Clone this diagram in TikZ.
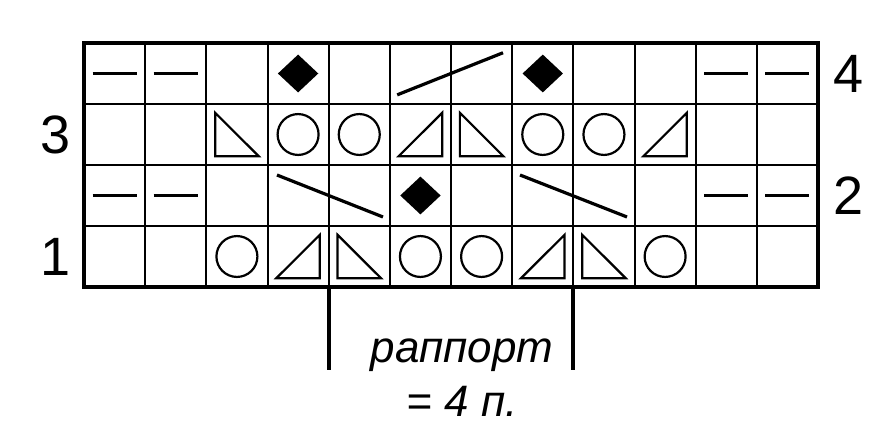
\documentclass[tikz,border=0pt]{standalone}
\usepackage{fontspec}
\setmainfont{Liberation Sans}
\usepackage{tikz}

\tikzset{
  pics/yarnover/.style={code={\draw[sym] (0,0) circle (0.335);}},
  pics/kleft/.style={code={\draw[sym] (-0.355,0.355) -- (-0.355,-0.355) -- (0.355,-0.355) -- cycle;}},
  pics/kright/.style={code={\draw[sym] (0.355,0.355) -- (0.355,-0.355) -- (-0.355,-0.355) -- cycle;}},
  pics/purlst/.style={code={\draw[bar] (-0.36,0) -- (0.36,0);}},
  pics/bobble/.style={code={\fill (0,0.31) -- (0.33,0) -- (0,-0.31) -- (-0.33,0) -- cycle;}},
}

\begin{document}
\begin{tikzpicture}[x=61.17pt, y=61pt,
    gridline/.style={line width=2pt},
    frame/.style={line width=4pt},
    sym/.style={line width=2.2pt, line join=miter},
    bar/.style={line width=3.2pt},
    rownum/.style={font=\fontsize{54}{60}\selectfont, inner sep=0pt},
    lbl/.style={font=\fontsize{44}{50}\selectfont\itshape, inner sep=0pt, anchor=base}]
  \useasboundingbox (-1.373,-2.295) rectangle (12.882,4.705);

  % chart
  \draw[gridline, xstep=61.17pt, ystep=61pt] (0,0) grid (12,4);
  \draw[frame] (0,0) rectangle (12,4);

  % symbols
  \foreach \c/\r in {3/1,6/1,7/1,10/1,4/3,5/3,8/3,9/3}
    \pic at (\c-0.5,\r-0.5) {yarnover};
  \foreach \c/\r in {5/1,9/1,3/3,7/3}
    \pic at (\c-0.5,\r-0.5) {kleft};
  \foreach \c/\r in {4/1,8/1,6/3,10/3}
    \pic at (\c-0.5,\r-0.5) {kright};
  \foreach \c in {1,2,11,12} {
    \pic at (\c-0.5,1.5) {purlst};
    \pic at (\c-0.5,3.5) {purlst};
  }
  \foreach \c/\r in {6/2,4/4,8/4}
    \pic at (\c-0.5,\r-0.5) {bobble};
  \draw[bar] (3.155,1.836) -- (4.888,1.148);
  \draw[bar] (7.128,1.836) -- (8.877,1.148);
  \draw[bar] (5.12,3.15) -- (6.85,3.84);

  % row numbers
  \node[rownum] (r1) at (-0.47,0.5) {1};
  \node[rownum] (r2) at (12.5,1.5) {2};
  \node[rownum] (r3) at (-0.47,2.5) {3};
  \node[rownum] (r4) at (12.5,3.5) {4};

  % repeat
  \coordinate (repA) at (4,0);
  \coordinate (repAend) at (4,-1.36);
  \coordinate (repB) at (8,0);
  \coordinate (repBend) at (8,-1.36);
  \draw[frame] (repA) -- (repAend);
  \draw[frame] (repB) -- (repBend);
  \node[lbl] (rep) at (6.18,-1.23) {раппорт};
  \node[lbl] (repn) at (6.18,-2.13) {= 4 п.};
\end{tikzpicture}
\end{document}
